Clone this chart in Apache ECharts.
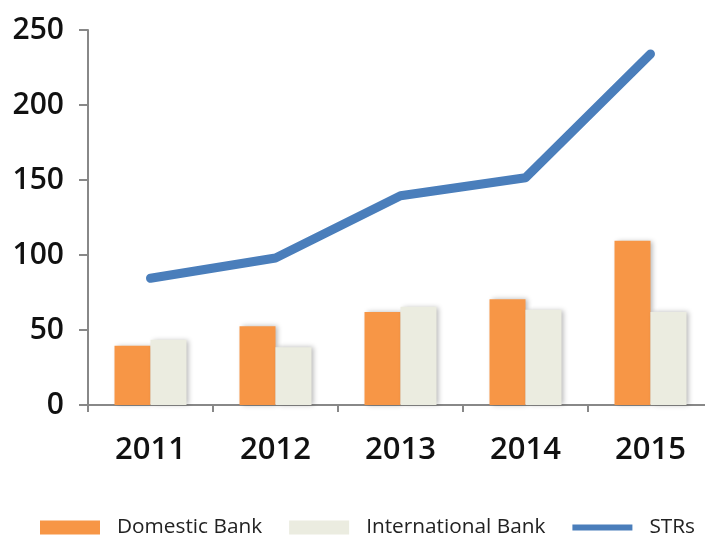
<!DOCTYPE html>
<html><head><meta charset="utf-8">
<script src="https://cdn.jsdelivr.net/npm/echarts@6/dist/echarts.min.js"></script>
<style>html,body{margin:0;padding:0;background:#fff}#c{width:705px;height:536px}</style>
</head><body><div id="c"></div>
<script>
var categories = ['2011','2012','2013','2014','2015'];
var domestic = [39.5, 52.5, 62, 70.5, 109.5];
var international = [43.5, 38.5, 65.5, 63.5, 62];
var strs = [84.5, 98, 139.5, 151.5, 234];
var yTicks = [0, 50, 100, 150, 200, 250];

var chart = echarts.init(document.getElementById('c'));
var font = '"Open Sans", "Noto Sans", sans-serif';
var shadow = {shadowBlur: 5, shadowOffsetX: 2, shadowOffsetY: 0, shadowColor: 'rgba(0,0,0,0.28)'};
chart.setOption({
  animation: false,
  textStyle: {fontFamily: font},
  grid: {left: 88, width: 625, top: 30, bottom: 131, outerBoundsMode: 'none', containLabel: false},
  legend: {
    left: 35, top: 512, width: 700, itemWidth: 60, itemHeight: 14, itemGap: 27,
    textStyle: {fontSize: 20.8, color: '#222', fontFamily: font, padding: [0,0,0,12]},
    data: [
      {name: 'Domestic Bank', icon: 'rect'},
      {name: 'International Bank', icon: 'rect'},
      {name: 'STRs', icon: 'path://M0,0h0.01v0.01h-0.01Z M0,4H60V10H0Z M0,13.99h0.01v0.01h-0.01Z'}
    ]
  },
  xAxis: {
    type: 'category', data: categories,
    axisLine: {lineStyle: {color: '#888', width: 2}},
    axisTick: {show: true, length: 7, lineStyle: {color: '#888', width: 2}},
    axisLabel: {fontSize: 31, fontWeight: 600, color: '#111', margin: 30, fontFamily: font}
  },
  yAxis: {
    type: 'value', min: 0, max: 250, interval: 50,
    splitLine: {show: false},
    axisLine: {show: true, lineStyle: {color: '#888', width: 2}},
    axisTick: {show: true, length: 9, lineStyle: {color: '#888', width: 2}},
    axisLabel: {fontSize: 30, fontWeight: 600, color: '#111', margin: 24, fontFamily: font,
      formatter: function(v){ return yTicks.indexOf(v) >= 0 ? String(v) : ''; }}
  },
  series: [
    {name: 'Domestic Bank', type: 'bar', data: domestic, barWidth: 36, barGap: '0%',
      itemStyle: Object.assign({color: '#F79646'}, shadow)},
    {name: 'International Bank', type: 'bar', data: international, barWidth: 36, barGap: '0%',
      itemStyle: Object.assign({color: '#EBECE0'}, shadow)},
    {name: 'STRs', type: 'line', data: strs, symbol: 'none',
      lineStyle: {color: '#4A7EBB', width: 9, cap: 'round', join: 'round'},
      itemStyle: {color: '#4A7EBB'}}
  ]
});
</script></body></html>
